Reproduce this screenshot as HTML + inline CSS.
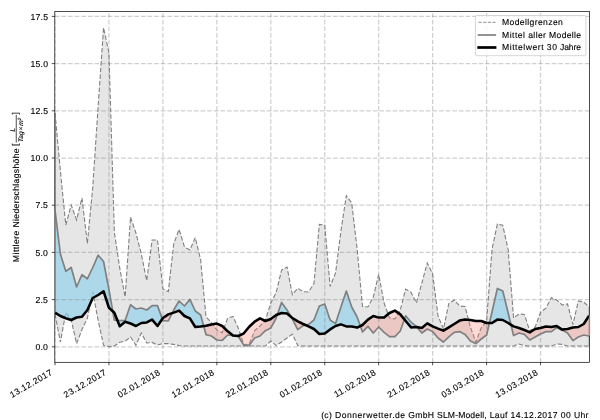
<!DOCTYPE html>
<html><head><meta charset="utf-8"><title>Niederschlag</title>
<style>
html,body{margin:0;padding:0;background:#fff}
body{width:600px;height:420px;overflow:hidden;position:relative;font-family:"Liberation Sans",sans-serif}
svg{position:absolute;left:0;top:0;display:block;will-change:transform;transform:translateZ(0)}
text{font-family:"Liberation Sans",sans-serif;fill:#000;stroke:#000;stroke-width:0.12px;-webkit-font-smoothing:antialiased;text-rendering:geometricPrecision}
</style></head><body>
<svg width="600" height="420" viewBox="0 0 600 420">
<rect x="0" y="0" width="600" height="420" fill="#ffffff"/>
<defs>
<clipPath id="ax"><rect x="54.8" y="11.6" width="534.8000000000001" height="350.7"/></clipPath>
<clipPath id="above"><polygon points="54.8,11.6 55.00,312.70 60.39,316.00 65.79,318.25 71.19,320.00 76.58,317.50 81.97,316.75 87.37,310.00 92.77,298.00 98.16,295.00 103.55,291.25 108.95,307.75 114.34,312.70 119.74,326.30 125.13,321.70 130.53,323.50 135.93,326.00 141.32,323.00 146.71,322.40 152.11,319.60 157.50,326.00 162.90,318.00 168.29,314.40 173.69,312.60 179.08,310.60 184.48,316.00 189.88,318.40 195.27,327.00 200.66,326.50 206.06,325.70 211.45,324.40 216.85,323.60 222.24,326.00 227.64,331.30 233.03,335.60 238.43,336.00 243.82,333.30 249.22,326.70 254.61,321.70 260.01,318.30 265.40,321.00 270.80,319.00 276.19,315.00 281.59,313.00 286.99,313.60 292.38,318.00 297.77,321.40 303.17,324.00 308.56,326.40 313.96,329.00 319.35,334.00 324.75,333.60 330.14,329.40 335.54,326.00 340.94,324.40 346.33,326.40 351.72,326.60 357.12,327.60 362.51,325.00 367.91,319.60 373.30,316.00 378.70,317.60 384.09,317.40 389.49,313.00 394.88,310.60 400.28,314.40 405.67,321.00 411.07,327.40 416.46,327.00 421.86,328.00 427.25,323.40 432.65,326.40 438.04,328.60 443.44,330.60 448.83,327.40 454.23,324.00 459.62,320.60 465.02,319.40 470.41,320.00 475.81,321.00 481.20,321.00 486.60,323.00 491.99,323.00 497.39,319.60 502.78,320.00 508.18,323.00 513.58,326.40 518.97,328.00 524.37,330.00 529.76,332.40 535.15,329.00 540.55,328.00 545.94,326.60 551.34,327.00 556.73,326.00 562.13,329.60 567.52,329.00 572.92,327.60 578.31,327.00 583.71,324.00 589.10,315.60 589.6,11.6"/></clipPath>
<clipPath id="below"><polygon points="54.8,362.3 55.00,312.70 60.39,316.00 65.79,318.25 71.19,320.00 76.58,317.50 81.97,316.75 87.37,310.00 92.77,298.00 98.16,295.00 103.55,291.25 108.95,307.75 114.34,312.70 119.74,326.30 125.13,321.70 130.53,323.50 135.93,326.00 141.32,323.00 146.71,322.40 152.11,319.60 157.50,326.00 162.90,318.00 168.29,314.40 173.69,312.60 179.08,310.60 184.48,316.00 189.88,318.40 195.27,327.00 200.66,326.50 206.06,325.70 211.45,324.40 216.85,323.60 222.24,326.00 227.64,331.30 233.03,335.60 238.43,336.00 243.82,333.30 249.22,326.70 254.61,321.70 260.01,318.30 265.40,321.00 270.80,319.00 276.19,315.00 281.59,313.00 286.99,313.60 292.38,318.00 297.77,321.40 303.17,324.00 308.56,326.40 313.96,329.00 319.35,334.00 324.75,333.60 330.14,329.40 335.54,326.00 340.94,324.40 346.33,326.40 351.72,326.60 357.12,327.60 362.51,325.00 367.91,319.60 373.30,316.00 378.70,317.60 384.09,317.40 389.49,313.00 394.88,310.60 400.28,314.40 405.67,321.00 411.07,327.40 416.46,327.00 421.86,328.00 427.25,323.40 432.65,326.40 438.04,328.60 443.44,330.60 448.83,327.40 454.23,324.00 459.62,320.60 465.02,319.40 470.41,320.00 475.81,321.00 481.20,321.00 486.60,323.00 491.99,323.00 497.39,319.60 502.78,320.00 508.18,323.00 513.58,326.40 518.97,328.00 524.37,330.00 529.76,332.40 535.15,329.00 540.55,328.00 545.94,326.60 551.34,327.00 556.73,326.00 562.13,329.60 567.52,329.00 572.92,327.60 578.31,327.00 583.71,324.00 589.10,315.60 589.6,362.3"/></clipPath>
</defs>
<g clip-path="url(#ax)">
<polygon points="55.00,113.00 60.39,171.00 65.79,225.00 71.19,205.00 76.58,220.00 81.97,198.00 87.37,243.50 92.77,187.00 98.16,106.00 103.55,27.60 108.95,53.00 114.34,232.00 119.74,268.00 125.13,297.00 130.53,217.00 135.93,233.00 141.32,254.00 146.71,280.50 152.11,240.00 157.50,240.00 162.90,289.00 168.29,291.60 173.69,244.00 179.08,229.40 184.48,247.00 189.88,250.00 195.27,237.60 200.66,260.00 206.06,317.00 211.45,322.70 216.85,330.00 222.24,332.70 227.64,318.30 233.03,316.40 238.43,328.50 243.82,344.70 249.22,344.00 254.61,330.70 260.01,326.00 265.40,320.00 270.80,303.00 276.19,292.50 281.59,270.00 286.99,267.00 292.38,294.70 297.77,288.30 303.17,291.70 308.56,292.00 313.96,283.50 319.35,224.40 324.75,225.00 330.14,286.50 335.54,273.00 340.94,231.00 346.33,195.60 351.72,203.00 357.12,248.80 362.51,306.40 367.91,307.00 373.30,297.00 378.70,274.30 384.09,303.00 389.49,318.00 394.88,319.00 400.28,310.00 405.67,289.00 411.07,292.40 416.46,303.00 421.86,283.00 427.25,263.00 432.65,274.00 438.04,316.00 443.44,329.00 448.83,303.50 454.23,300.00 459.62,306.00 465.02,306.40 470.41,327.00 475.81,342.00 481.20,328.00 486.60,321.00 491.99,249.25 497.39,224.00 502.78,225.30 508.18,250.00 513.58,318.00 518.97,314.00 524.37,314.40 529.76,331.00 535.15,327.00 540.55,312.20 545.94,308.20 551.34,297.60 556.73,300.00 562.13,305.00 567.52,304.00 572.92,324.50 578.31,301.00 583.71,302.00 589.10,307.00 589.10,346.00 583.71,346.00 578.31,346.00 572.92,346.00 567.52,346.00 562.13,344.40 556.73,344.00 551.34,346.00 545.94,346.00 540.55,346.00 535.15,346.00 529.76,346.00 524.37,345.60 518.97,344.00 513.58,346.00 508.18,346.00 502.78,346.00 497.39,346.00 491.99,346.00 486.60,346.00 481.20,346.00 475.81,346.00 470.41,346.00 465.02,346.00 459.62,346.00 454.23,346.00 448.83,346.00 443.44,346.00 438.04,346.00 432.65,346.00 427.25,346.00 421.86,346.00 416.46,346.00 411.07,346.00 405.67,346.00 400.28,346.00 394.88,346.00 389.49,346.00 384.09,346.00 378.70,346.00 373.30,346.00 367.91,346.00 362.51,346.00 357.12,346.00 351.72,346.00 346.33,346.00 340.94,346.00 335.54,346.00 330.14,346.00 324.75,346.00 319.35,346.00 313.96,346.00 308.56,346.00 303.17,346.00 297.77,345.60 292.38,334.20 286.99,338.00 281.59,342.00 276.19,345.60 270.80,341.00 265.40,346.00 260.01,346.00 254.61,346.00 249.22,346.00 243.82,346.00 238.43,346.00 233.03,346.00 227.64,346.00 222.24,346.00 216.85,346.00 211.45,346.00 206.06,346.00 200.66,346.00 195.27,346.00 189.88,346.00 184.48,346.00 179.08,345.60 173.69,344.40 168.29,343.60 162.90,343.60 157.50,345.00 152.11,342.40 146.71,343.00 141.32,333.00 135.93,345.25 130.53,337.00 125.13,341.20 119.74,342.25 114.34,346.00 108.95,346.75 103.55,345.25 98.16,320.50 92.77,292.00 87.37,318.25 81.97,329.50 76.58,343.75 71.19,319.75 65.79,312.70 60.39,342.25 55.00,314.00" fill="#e6e6e6"/>
<polyline points="55.00,113.00 60.39,171.00 65.79,225.00 71.19,205.00 76.58,220.00 81.97,198.00 87.37,243.50 92.77,187.00 98.16,106.00 103.55,27.60 108.95,53.00 114.34,232.00 119.74,268.00 125.13,297.00 130.53,217.00 135.93,233.00 141.32,254.00 146.71,280.50 152.11,240.00 157.50,240.00 162.90,289.00 168.29,291.60 173.69,244.00 179.08,229.40 184.48,247.00 189.88,250.00 195.27,237.60 200.66,260.00 206.06,317.00 211.45,322.70 216.85,330.00 222.24,332.70 227.64,318.30 233.03,316.40 238.43,328.50 243.82,344.70 249.22,344.00 254.61,330.70 260.01,326.00 265.40,320.00 270.80,303.00 276.19,292.50 281.59,270.00 286.99,267.00 292.38,294.70 297.77,288.30 303.17,291.70 308.56,292.00 313.96,283.50 319.35,224.40 324.75,225.00 330.14,286.50 335.54,273.00 340.94,231.00 346.33,195.60 351.72,203.00 357.12,248.80 362.51,306.40 367.91,307.00 373.30,297.00 378.70,274.30 384.09,303.00 389.49,318.00 394.88,319.00 400.28,310.00 405.67,289.00 411.07,292.40 416.46,303.00 421.86,283.00 427.25,263.00 432.65,274.00 438.04,316.00 443.44,329.00 448.83,303.50 454.23,300.00 459.62,306.00 465.02,306.40 470.41,327.00 475.81,342.00 481.20,328.00 486.60,321.00 491.99,249.25 497.39,224.00 502.78,225.30 508.18,250.00 513.58,318.00 518.97,314.00 524.37,314.40 529.76,331.00 535.15,327.00 540.55,312.20 545.94,308.20 551.34,297.60 556.73,300.00 562.13,305.00 567.52,304.00 572.92,324.50 578.31,301.00 583.71,302.00 589.10,307.00" fill="none" stroke="#808080" stroke-width="1.1" stroke-dasharray="4.6 2.0"/>
<polyline points="55.00,314.00 60.39,342.25 65.79,312.70 71.19,319.75 76.58,343.75 81.97,329.50 87.37,318.25 92.77,292.00 98.16,320.50 103.55,345.25 108.95,346.75 114.34,346.00 119.74,342.25 125.13,341.20 130.53,337.00 135.93,345.25 141.32,333.00 146.71,343.00 152.11,342.40 157.50,345.00 162.90,343.60 168.29,343.60 173.69,344.40 179.08,345.60 184.48,346.00 189.88,346.00 195.27,346.00 200.66,346.00 206.06,346.00 211.45,346.00 216.85,346.00 222.24,346.00 227.64,346.00 233.03,346.00 238.43,346.00 243.82,346.00 249.22,346.00 254.61,346.00 260.01,346.00 265.40,346.00 270.80,341.00 276.19,345.60 281.59,342.00 286.99,338.00 292.38,334.20 297.77,345.60 303.17,346.00 308.56,346.00 313.96,346.00 319.35,346.00 324.75,346.00 330.14,346.00 335.54,346.00 340.94,346.00 346.33,346.00 351.72,346.00 357.12,346.00 362.51,346.00 367.91,346.00 373.30,346.00 378.70,346.00 384.09,346.00 389.49,346.00 394.88,346.00 400.28,346.00 405.67,346.00 411.07,346.00 416.46,346.00 421.86,346.00 427.25,346.00 432.65,346.00 438.04,346.00 443.44,346.00 448.83,346.00 454.23,346.00 459.62,346.00 465.02,346.00 470.41,346.00 475.81,346.00 481.20,346.00 486.60,346.00 491.99,346.00 497.39,346.00 502.78,346.00 508.18,346.00 513.58,346.00 518.97,344.00 524.37,345.60 529.76,346.00 535.15,346.00 540.55,346.00 545.94,346.00 551.34,346.00 556.73,344.00 562.13,344.40 567.52,346.00 572.92,346.00 578.31,346.00 583.71,346.00 589.10,346.00" fill="none" stroke="#808080" stroke-width="1.1" stroke-dasharray="4.6 2.0"/>
<line x1="55.35" y1="113" x2="55.35" y2="314" stroke="#9a9a9a" stroke-width="0.9"/>
<line x1="589.0" y1="307" x2="589.0" y2="346" stroke="#9a9a9a" stroke-width="0.9"/>
<g clip-path="url(#above)"><polygon points="55.00,210.00 60.39,254.00 65.79,271.25 71.19,267.50 76.58,287.00 81.97,274.70 87.37,278.75 92.77,267.50 98.16,255.20 103.55,261.50 108.95,289.60 114.34,320.20 119.74,320.50 125.13,320.50 130.53,304.75 135.93,309.00 141.32,308.00 146.71,310.00 152.11,305.60 157.50,305.60 162.90,320.60 168.29,321.00 173.69,310.00 179.08,301.00 184.48,306.00 189.88,299.40 195.27,311.00 200.66,315.00 206.06,334.70 211.45,336.00 216.85,340.00 222.24,340.40 227.64,335.00 233.03,335.60 238.43,336.50 243.82,345.30 249.22,345.30 254.61,338.00 260.01,336.00 265.40,330.70 270.80,328.00 276.19,318.00 281.59,302.40 286.99,310.00 292.38,319.00 297.77,329.60 303.17,325.60 308.56,324.40 313.96,320.00 319.35,306.00 324.75,304.00 330.14,320.00 335.54,323.60 340.94,307.00 346.33,291.00 351.72,307.00 357.12,317.00 362.51,332.00 367.91,326.40 373.30,333.00 378.70,327.00 384.09,332.40 389.49,336.60 394.88,336.60 400.28,331.00 405.67,315.80 411.07,322.20 416.46,326.60 421.86,333.00 427.25,329.00 432.65,331.60 438.04,338.00 443.44,342.00 448.83,336.80 454.23,332.40 459.62,331.60 465.02,334.40 470.41,341.00 475.81,343.60 481.20,339.00 486.60,335.00 491.99,312.00 497.39,288.40 502.78,291.00 508.18,313.00 513.58,335.60 518.97,333.00 524.37,334.40 529.76,340.00 535.15,337.00 540.55,334.00 545.94,331.60 551.34,331.60 556.73,327.60 562.13,330.00 567.52,333.00 572.92,340.60 578.31,337.00 583.71,335.00 589.10,336.00 589.10,315.60 583.71,324.00 578.31,327.00 572.92,327.60 567.52,329.00 562.13,329.60 556.73,326.00 551.34,327.00 545.94,326.60 540.55,328.00 535.15,329.00 529.76,332.40 524.37,330.00 518.97,328.00 513.58,326.40 508.18,323.00 502.78,320.00 497.39,319.60 491.99,323.00 486.60,323.00 481.20,321.00 475.81,321.00 470.41,320.00 465.02,319.40 459.62,320.60 454.23,324.00 448.83,327.40 443.44,330.60 438.04,328.60 432.65,326.40 427.25,323.40 421.86,328.00 416.46,327.00 411.07,327.40 405.67,321.00 400.28,314.40 394.88,310.60 389.49,313.00 384.09,317.40 378.70,317.60 373.30,316.00 367.91,319.60 362.51,325.00 357.12,327.60 351.72,326.60 346.33,326.40 340.94,324.40 335.54,326.00 330.14,329.40 324.75,333.60 319.35,334.00 313.96,329.00 308.56,326.40 303.17,324.00 297.77,321.40 292.38,318.00 286.99,313.60 281.59,313.00 276.19,315.00 270.80,319.00 265.40,321.00 260.01,318.30 254.61,321.70 249.22,326.70 243.82,333.30 238.43,336.00 233.03,335.60 227.64,331.30 222.24,326.00 216.85,323.60 211.45,324.40 206.06,325.70 200.66,326.50 195.27,327.00 189.88,318.40 184.48,316.00 179.08,310.60 173.69,312.60 168.29,314.40 162.90,318.00 157.50,326.00 152.11,319.60 146.71,322.40 141.32,323.00 135.93,326.00 130.53,323.50 125.13,321.70 119.74,326.30 114.34,312.70 108.95,307.75 103.55,291.25 98.16,295.00 92.77,298.00 87.37,310.00 81.97,316.75 76.58,317.50 71.19,320.00 65.79,318.25 60.39,316.00 55.00,312.70" fill="rgba(135,206,235,0.62)"/></g>
<g clip-path="url(#below)"><polygon points="55.00,210.00 60.39,254.00 65.79,271.25 71.19,267.50 76.58,287.00 81.97,274.70 87.37,278.75 92.77,267.50 98.16,255.20 103.55,261.50 108.95,289.60 114.34,320.20 119.74,320.50 125.13,320.50 130.53,304.75 135.93,309.00 141.32,308.00 146.71,310.00 152.11,305.60 157.50,305.60 162.90,320.60 168.29,321.00 173.69,310.00 179.08,301.00 184.48,306.00 189.88,299.40 195.27,311.00 200.66,315.00 206.06,334.70 211.45,336.00 216.85,340.00 222.24,340.40 227.64,335.00 233.03,335.60 238.43,336.50 243.82,345.30 249.22,345.30 254.61,338.00 260.01,336.00 265.40,330.70 270.80,328.00 276.19,318.00 281.59,302.40 286.99,310.00 292.38,319.00 297.77,329.60 303.17,325.60 308.56,324.40 313.96,320.00 319.35,306.00 324.75,304.00 330.14,320.00 335.54,323.60 340.94,307.00 346.33,291.00 351.72,307.00 357.12,317.00 362.51,332.00 367.91,326.40 373.30,333.00 378.70,327.00 384.09,332.40 389.49,336.60 394.88,336.60 400.28,331.00 405.67,315.80 411.07,322.20 416.46,326.60 421.86,333.00 427.25,329.00 432.65,331.60 438.04,338.00 443.44,342.00 448.83,336.80 454.23,332.40 459.62,331.60 465.02,334.40 470.41,341.00 475.81,343.60 481.20,339.00 486.60,335.00 491.99,312.00 497.39,288.40 502.78,291.00 508.18,313.00 513.58,335.60 518.97,333.00 524.37,334.40 529.76,340.00 535.15,337.00 540.55,334.00 545.94,331.60 551.34,331.60 556.73,327.60 562.13,330.00 567.52,333.00 572.92,340.60 578.31,337.00 583.71,335.00 589.10,336.00 589.10,315.60 583.71,324.00 578.31,327.00 572.92,327.60 567.52,329.00 562.13,329.60 556.73,326.00 551.34,327.00 545.94,326.60 540.55,328.00 535.15,329.00 529.76,332.40 524.37,330.00 518.97,328.00 513.58,326.40 508.18,323.00 502.78,320.00 497.39,319.60 491.99,323.00 486.60,323.00 481.20,321.00 475.81,321.00 470.41,320.00 465.02,319.40 459.62,320.60 454.23,324.00 448.83,327.40 443.44,330.60 438.04,328.60 432.65,326.40 427.25,323.40 421.86,328.00 416.46,327.00 411.07,327.40 405.67,321.00 400.28,314.40 394.88,310.60 389.49,313.00 384.09,317.40 378.70,317.60 373.30,316.00 367.91,319.60 362.51,325.00 357.12,327.60 351.72,326.60 346.33,326.40 340.94,324.40 335.54,326.00 330.14,329.40 324.75,333.60 319.35,334.00 313.96,329.00 308.56,326.40 303.17,324.00 297.77,321.40 292.38,318.00 286.99,313.60 281.59,313.00 276.19,315.00 270.80,319.00 265.40,321.00 260.01,318.30 254.61,321.70 249.22,326.70 243.82,333.30 238.43,336.00 233.03,335.60 227.64,331.30 222.24,326.00 216.85,323.60 211.45,324.40 206.06,325.70 200.66,326.50 195.27,327.00 189.88,318.40 184.48,316.00 179.08,310.60 173.69,312.60 168.29,314.40 162.90,318.00 157.50,326.00 152.11,319.60 146.71,322.40 141.32,323.00 135.93,326.00 130.53,323.50 125.13,321.70 119.74,326.30 114.34,312.70 108.95,307.75 103.55,291.25 98.16,295.00 92.77,298.00 87.37,310.00 81.97,316.75 76.58,317.50 71.19,320.00 65.79,318.25 60.39,316.00 55.00,312.70" fill="rgba(250,128,114,0.29)"/></g>
<line x1="55.00" y1="362.3" x2="55.00" y2="11.6" stroke="rgba(128,128,128,0.38)" stroke-width="1.25" stroke-dasharray="4.625 2.0"/>
<line x1="108.95" y1="362.3" x2="108.95" y2="11.6" stroke="rgba(128,128,128,0.38)" stroke-width="1.25" stroke-dasharray="4.625 2.0"/>
<line x1="162.90" y1="362.3" x2="162.90" y2="11.6" stroke="rgba(128,128,128,0.38)" stroke-width="1.25" stroke-dasharray="4.625 2.0"/>
<line x1="216.85" y1="362.3" x2="216.85" y2="11.6" stroke="rgba(128,128,128,0.38)" stroke-width="1.25" stroke-dasharray="4.625 2.0"/>
<line x1="270.80" y1="362.3" x2="270.80" y2="11.6" stroke="rgba(128,128,128,0.38)" stroke-width="1.25" stroke-dasharray="4.625 2.0"/>
<line x1="324.75" y1="362.3" x2="324.75" y2="11.6" stroke="rgba(128,128,128,0.38)" stroke-width="1.25" stroke-dasharray="4.625 2.0"/>
<line x1="378.70" y1="362.3" x2="378.70" y2="11.6" stroke="rgba(128,128,128,0.38)" stroke-width="1.25" stroke-dasharray="4.625 2.0"/>
<line x1="432.65" y1="362.3" x2="432.65" y2="11.6" stroke="rgba(128,128,128,0.38)" stroke-width="1.25" stroke-dasharray="4.625 2.0"/>
<line x1="486.60" y1="362.3" x2="486.60" y2="11.6" stroke="rgba(128,128,128,0.38)" stroke-width="1.25" stroke-dasharray="4.625 2.0"/>
<line x1="540.55" y1="362.3" x2="540.55" y2="11.6" stroke="rgba(128,128,128,0.38)" stroke-width="1.25" stroke-dasharray="4.625 2.0"/>
<line x1="54.8" y1="346.80" x2="589.6" y2="346.80" stroke="rgba(128,128,128,0.38)" stroke-width="1.25" stroke-dasharray="4.625 2.0"/>
<line x1="54.8" y1="299.60" x2="589.6" y2="299.60" stroke="rgba(128,128,128,0.38)" stroke-width="1.25" stroke-dasharray="4.625 2.0"/>
<line x1="54.8" y1="252.40" x2="589.6" y2="252.40" stroke="rgba(128,128,128,0.38)" stroke-width="1.25" stroke-dasharray="4.625 2.0"/>
<line x1="54.8" y1="205.20" x2="589.6" y2="205.20" stroke="rgba(128,128,128,0.38)" stroke-width="1.25" stroke-dasharray="4.625 2.0"/>
<line x1="54.8" y1="158.00" x2="589.6" y2="158.00" stroke="rgba(128,128,128,0.38)" stroke-width="1.25" stroke-dasharray="4.625 2.0"/>
<line x1="54.8" y1="110.80" x2="589.6" y2="110.80" stroke="rgba(128,128,128,0.38)" stroke-width="1.25" stroke-dasharray="4.625 2.0"/>
<line x1="54.8" y1="63.60" x2="589.6" y2="63.60" stroke="rgba(128,128,128,0.38)" stroke-width="1.25" stroke-dasharray="4.625 2.0"/>
<line x1="54.8" y1="16.40" x2="589.6" y2="16.40" stroke="rgba(128,128,128,0.38)" stroke-width="1.25" stroke-dasharray="4.625 2.0"/>
<polyline points="55.00,210.00 60.39,254.00 65.79,271.25 71.19,267.50 76.58,287.00 81.97,274.70 87.37,278.75 92.77,267.50 98.16,255.20 103.55,261.50 108.95,289.60 114.34,320.20 119.74,320.50 125.13,320.50 130.53,304.75 135.93,309.00 141.32,308.00 146.71,310.00 152.11,305.60 157.50,305.60 162.90,320.60 168.29,321.00 173.69,310.00 179.08,301.00 184.48,306.00 189.88,299.40 195.27,311.00 200.66,315.00 206.06,334.70 211.45,336.00 216.85,340.00 222.24,340.40 227.64,335.00 233.03,335.60 238.43,336.50 243.82,345.30 249.22,345.30 254.61,338.00 260.01,336.00 265.40,330.70 270.80,328.00 276.19,318.00 281.59,302.40 286.99,310.00 292.38,319.00 297.77,329.60 303.17,325.60 308.56,324.40 313.96,320.00 319.35,306.00 324.75,304.00 330.14,320.00 335.54,323.60 340.94,307.00 346.33,291.00 351.72,307.00 357.12,317.00 362.51,332.00 367.91,326.40 373.30,333.00 378.70,327.00 384.09,332.40 389.49,336.60 394.88,336.60 400.28,331.00 405.67,315.80 411.07,322.20 416.46,326.60 421.86,333.00 427.25,329.00 432.65,331.60 438.04,338.00 443.44,342.00 448.83,336.80 454.23,332.40 459.62,331.60 465.02,334.40 470.41,341.00 475.81,343.60 481.20,339.00 486.60,335.00 491.99,312.00 497.39,288.40 502.78,291.00 508.18,313.00 513.58,335.60 518.97,333.00 524.37,334.40 529.76,340.00 535.15,337.00 540.55,334.00 545.94,331.60 551.34,331.60 556.73,327.60 562.13,330.00 567.52,333.00 572.92,340.60 578.31,337.00 583.71,335.00 589.10,336.00" fill="none" stroke="#808080" stroke-width="1.7" stroke-linejoin="round"/>
<polyline points="55.00,312.70 60.39,316.00 65.79,318.25 71.19,320.00 76.58,317.50 81.97,316.75 87.37,310.00 92.77,298.00 98.16,295.00 103.55,291.25 108.95,307.75 114.34,312.70 119.74,326.30 125.13,321.70 130.53,323.50 135.93,326.00 141.32,323.00 146.71,322.40 152.11,319.60 157.50,326.00 162.90,318.00 168.29,314.40 173.69,312.60 179.08,310.60 184.48,316.00 189.88,318.40 195.27,327.00 200.66,326.50 206.06,325.70 211.45,324.40 216.85,323.60 222.24,326.00 227.64,331.30 233.03,335.60 238.43,336.00 243.82,333.30 249.22,326.70 254.61,321.70 260.01,318.30 265.40,321.00 270.80,319.00 276.19,315.00 281.59,313.00 286.99,313.60 292.38,318.00 297.77,321.40 303.17,324.00 308.56,326.40 313.96,329.00 319.35,334.00 324.75,333.60 330.14,329.40 335.54,326.00 340.94,324.40 346.33,326.40 351.72,326.60 357.12,327.60 362.51,325.00 367.91,319.60 373.30,316.00 378.70,317.60 384.09,317.40 389.49,313.00 394.88,310.60 400.28,314.40 405.67,321.00 411.07,327.40 416.46,327.00 421.86,328.00 427.25,323.40 432.65,326.40 438.04,328.60 443.44,330.60 448.83,327.40 454.23,324.00 459.62,320.60 465.02,319.40 470.41,320.00 475.81,321.00 481.20,321.00 486.60,323.00 491.99,323.00 497.39,319.60 502.78,320.00 508.18,323.00 513.58,326.40 518.97,328.00 524.37,330.00 529.76,332.40 535.15,329.00 540.55,328.00 545.94,326.60 551.34,327.00 556.73,326.00 562.13,329.60 567.52,329.00 572.92,327.60 578.31,327.00 583.71,324.00 589.10,315.60" fill="none" stroke="#000" stroke-width="2.55" stroke-linejoin="round" stroke-linecap="butt"/>
</g>
<rect x="54.8" y="11.6" width="534.8000000000001" height="350.7" fill="none" stroke="#000" stroke-width="0.7"/>
<line x1="54.75" y1="210" x2="54.75" y2="312.7" stroke="#858585" stroke-width="1.35"/>
<line x1="589.5" y1="336" x2="589.5" y2="315.6" stroke="#8a8a8a" stroke-width="1.2"/>
<line x1="55.00" y1="362.3" x2="55.00" y2="365.3" stroke="#000" stroke-width="0.7"/>
<line x1="108.95" y1="362.3" x2="108.95" y2="365.3" stroke="#000" stroke-width="0.7"/>
<line x1="162.90" y1="362.3" x2="162.90" y2="365.3" stroke="#000" stroke-width="0.7"/>
<line x1="216.85" y1="362.3" x2="216.85" y2="365.3" stroke="#000" stroke-width="0.7"/>
<line x1="270.80" y1="362.3" x2="270.80" y2="365.3" stroke="#000" stroke-width="0.7"/>
<line x1="324.75" y1="362.3" x2="324.75" y2="365.3" stroke="#000" stroke-width="0.7"/>
<line x1="378.70" y1="362.3" x2="378.70" y2="365.3" stroke="#000" stroke-width="0.7"/>
<line x1="432.65" y1="362.3" x2="432.65" y2="365.3" stroke="#000" stroke-width="0.7"/>
<line x1="486.60" y1="362.3" x2="486.60" y2="365.3" stroke="#000" stroke-width="0.7"/>
<line x1="540.55" y1="362.3" x2="540.55" y2="365.3" stroke="#000" stroke-width="0.7"/>
<line x1="51.8" y1="346.80" x2="54.8" y2="346.80" stroke="#000" stroke-width="0.7"/>
<line x1="51.8" y1="299.60" x2="54.8" y2="299.60" stroke="#000" stroke-width="0.7"/>
<line x1="51.8" y1="252.40" x2="54.8" y2="252.40" stroke="#000" stroke-width="0.7"/>
<line x1="51.8" y1="205.20" x2="54.8" y2="205.20" stroke="#000" stroke-width="0.7"/>
<line x1="51.8" y1="158.00" x2="54.8" y2="158.00" stroke="#000" stroke-width="0.7"/>
<line x1="51.8" y1="110.80" x2="54.8" y2="110.80" stroke="#000" stroke-width="0.7"/>
<line x1="51.8" y1="63.60" x2="54.8" y2="63.60" stroke="#000" stroke-width="0.7"/>
<line x1="51.8" y1="16.40" x2="54.8" y2="16.40" stroke="#000" stroke-width="0.7"/>
<text x="48.2" y="349.90" text-anchor="end" font-size="8.7" letter-spacing="0.22">0.0</text>
<text x="48.2" y="302.70" text-anchor="end" font-size="8.7" letter-spacing="0.22">2.5</text>
<text x="48.2" y="255.50" text-anchor="end" font-size="8.7" letter-spacing="0.22">5.0</text>
<text x="48.2" y="208.30" text-anchor="end" font-size="8.7" letter-spacing="0.22">7.5</text>
<text x="48.2" y="161.10" text-anchor="end" font-size="8.7" letter-spacing="0.22">10.0</text>
<text x="48.2" y="113.90" text-anchor="end" font-size="8.7" letter-spacing="0.22">12.5</text>
<text x="48.2" y="66.70" text-anchor="end" font-size="8.7" letter-spacing="0.22">15.0</text>
<text x="48.2" y="19.50" text-anchor="end" font-size="8.7" letter-spacing="0.22">17.5</text>
<text transform="translate(53.20,374.10) rotate(-30)" text-anchor="end" font-size="8.7" letter-spacing="0.42">13.12.2017</text>
<text transform="translate(107.15,374.10) rotate(-30)" text-anchor="end" font-size="8.7" letter-spacing="0.42">23.12.2017</text>
<text transform="translate(161.10,374.10) rotate(-30)" text-anchor="end" font-size="8.7" letter-spacing="0.42">02.01.2018</text>
<text transform="translate(215.05,374.10) rotate(-30)" text-anchor="end" font-size="8.7" letter-spacing="0.42">12.01.2018</text>
<text transform="translate(269.00,374.10) rotate(-30)" text-anchor="end" font-size="8.7" letter-spacing="0.42">22.01.2018</text>
<text transform="translate(322.95,374.10) rotate(-30)" text-anchor="end" font-size="8.7" letter-spacing="0.42">01.02.2018</text>
<text transform="translate(376.90,374.10) rotate(-30)" text-anchor="end" font-size="8.7" letter-spacing="0.42">11.02.2018</text>
<text transform="translate(430.85,374.10) rotate(-30)" text-anchor="end" font-size="8.7" letter-spacing="0.42">21.02.2018</text>
<text transform="translate(484.80,374.10) rotate(-30)" text-anchor="end" font-size="8.7" letter-spacing="0.42">03.03.2018</text>
<text transform="translate(538.75,374.10) rotate(-30)" text-anchor="end" font-size="8.7" letter-spacing="0.42">13.03.2018</text>
<g transform="translate(19.25,262.4) rotate(-90)"><text x="0.25" y="0" font-size="8.6" textLength="31.53" lengthAdjust="spacing">Mittlere</text><text x="34.93" y="0" font-size="8.6" textLength="79.07" lengthAdjust="spacing">Niederschlagshöhe</text><text x="116.55" y="-0.8" font-size="8.4">[</text><text x="132.6" y="-4.6" font-size="6.8" font-style="italic" text-anchor="middle">L</text><line x1="119.9" y1="-3.0" x2="147.5" y2="-3.0" stroke="#000" stroke-width="0.7"/><text x="120.4" y="3.7" font-size="6.5" font-style="italic" word-spacing="-0.9">Tag × m<tspan dy="-2.2" font-size="4.6">2</tspan></text><text x="147.9" y="-0.8" font-size="8.4">]</text></g>
<rect x="475.4" y="15.5" width="110.5" height="40.2" rx="1.6" ry="1.6" fill="#ffffff" fill-opacity="0.8" stroke="#cccccc" stroke-width="0.8"/>
<line x1="478.5" y1="22.3" x2="495.5" y2="22.3" stroke="#808080" stroke-width="0.9" stroke-dasharray="3.2 1.45"/>
<line x1="477.7" y1="35.0" x2="496.1" y2="35.0" stroke="#808080" stroke-width="1.7"/>
<line x1="477.3" y1="47.5" x2="496.4" y2="47.5" stroke="#000" stroke-width="2.7"/>
<text x="502.05" y="25.1" font-size="8.6" textLength="60.75" lengthAdjust="spacing">Modellgrenzen</text>
<text x="502.05" y="37.6" font-size="8.6" textLength="22.98" lengthAdjust="spacing">Mittel</text><text x="528.18" y="37.6" font-size="8.6" textLength="17.79" lengthAdjust="spacing">aller</text><text x="549.12" y="37.6" font-size="8.6" textLength="31.97" lengthAdjust="spacing">Modelle</text>
<text x="502.05" y="50.1" font-size="8.6" textLength="41.61" lengthAdjust="spacing">Mittelwert</text><text x="546.81" y="50.1" font-size="8.6" textLength="10.10" lengthAdjust="spacing">30</text><text x="560.06" y="50.1" font-size="8.6" textLength="20.90" lengthAdjust="spacing">Jahre</text>
<text x="321.17" y="417.6" font-size="8.6" textLength="10.58" lengthAdjust="spacing">(c)</text><text x="334.90" y="417.6" font-size="8.6" textLength="70.22" lengthAdjust="spacing">Donnerwetter.de</text><text x="408.27" y="417.6" font-size="8.6" textLength="25.63" lengthAdjust="spacing">GmbH</text><text x="437.06" y="417.6" font-size="8.6" textLength="49.62" lengthAdjust="spacing">SLM-Modell,</text><text x="489.83" y="417.6" font-size="8.6" textLength="17.47" lengthAdjust="spacing">Lauf</text><text x="510.44" y="417.6" font-size="8.6" textLength="47.20" lengthAdjust="spacing">14.12.2017</text><text x="560.79" y="417.6" font-size="8.6" textLength="10.10" lengthAdjust="spacing">00</text><text x="574.04" y="417.6" font-size="8.6" textLength="14.31" lengthAdjust="spacing">Uhr</text>
</svg></body></html>
